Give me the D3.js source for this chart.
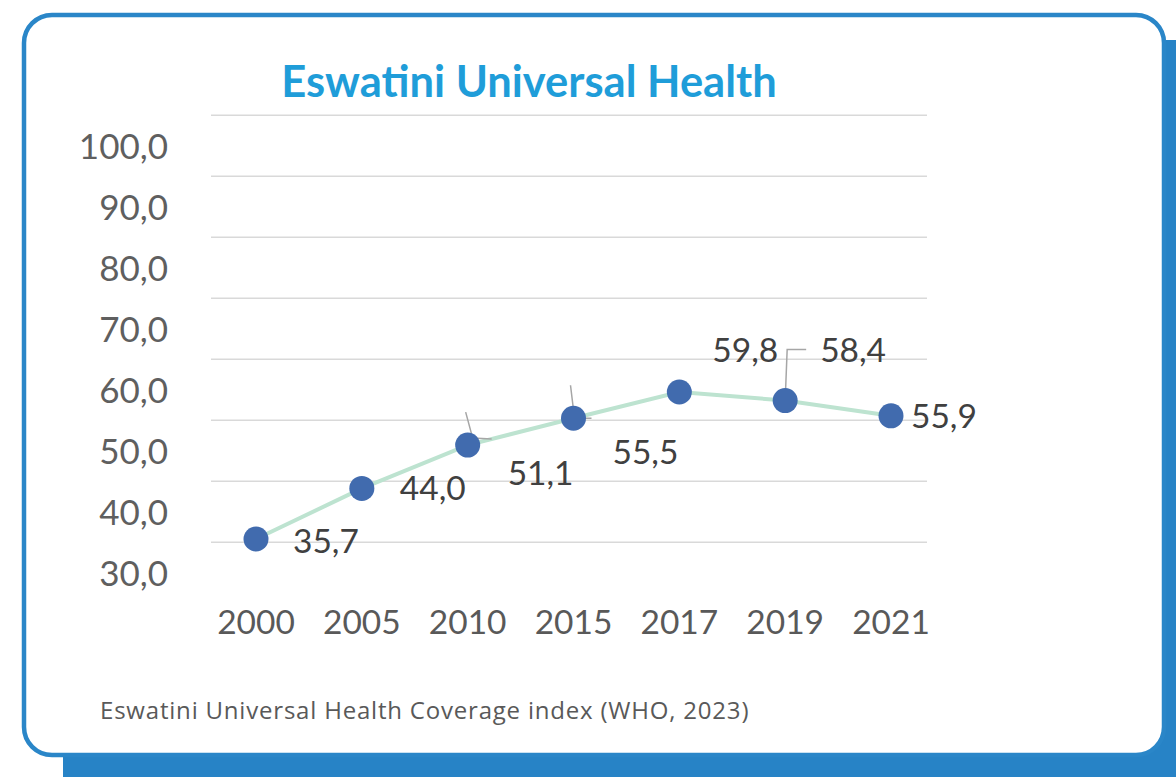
<!DOCTYPE html>
<html><head><meta charset="utf-8">
<script src="https://cdn.jsdelivr.net/npm/d3@7"></script>
<style>html,body{margin:0;padding:0;background:#fff;overflow:hidden}</style>
</head><body>
<svg id="c" width="1176" height="777"></svg>
<script>
const years = ["2000","2005","2010","2015","2017","2019","2021"];
const values = [35.7, 44.0, 51.1, 55.5, 59.8, 58.4, 55.9];
const valueLabels = ["35,7","44,0","51,1","55,5","59,8","58,4","55,9"];
const yTickValues = [30,40,50,60,70,80,90,100];
const yTickLabels = ["30,0","40,0","50,0","60,0","70,0","80,0","90,0","100,0"];
const gridValues = [35,45,55,65,75,85,95,105];

const svg = d3.select("#c");
// shadow + card
svg.append("rect").attr("x",63).attr("y",40).attr("width",1200).attr("height",800).attr("rx",22).attr("fill","#2783c6");
svg.append("rect").attr("x",24).attr("y",15).attr("width",1140).attr("height",740).attr("rx",28)
  .attr("fill","#fff").attr("stroke","#2a86c8").attr("stroke-width",4.5);

const x = d3.scalePoint().domain(years).range([256, 891]);
const y = d3.scaleLinear().domain([30, 105]).range([573.8, 116.3]);

// title
svg.append("text").attr("x",529).attr("y",97).attr("text-anchor","middle")
  .attr("font-family","Lato").attr("font-weight","bold").attr("font-size",43.5)
  .attr("fill","#1f9dd9").text("Eswatini Universal Health");

// grid
svg.append("g").selectAll("line").data(gridValues).join("line")
  .attr("x1",211).attr("x2",927).attr("y1",d=>y(d)-1).attr("y2",d=>y(d)-1)
  .attr("stroke","#d9d9d9").attr("stroke-width",1.5);

// y labels
svg.append("g").selectAll("text").data(yTickValues).join("text")
  .attr("x",168).attr("y",d=>y(d)).attr("dy","0.36em").attr("text-anchor","end")
  .attr("font-family","Lato").attr("font-size",35).attr("fill","#5f5f5f")
  .text((d,i)=>yTickLabels[i]);

// x labels
svg.append("g").selectAll("text").data(years).join("text")
  .attr("x",d=>x(d)).attr("y",634).attr("text-anchor","middle")
  .attr("font-family","Lato").attr("font-size",33.5).attr("fill","#595959").text(d=>d);

// line
const line = d3.line().x((d,i)=>x(years[i])).y(d=>y(d));
svg.append("path").datum(values).attr("d",line).attr("fill","none")
  .attr("stroke","#bde3d0").attr("stroke-width",4);

// leader lines (offsets relative to point)
const leaders = [null,null,
  [[-2,-33],[5,-7],[24,-6]],
  [[-3,-33],[1,0],[18,0]],
  null,
  [[0,0],[2,-51],[21,-51]],
  null];
leaders.forEach((l,i)=>{
  if(!l) return;
  const px = x(years[i]), py = y(values[i]);
  const pts = l.map(p=>[px+p[0], py+p[1]]);
  svg.append("path").attr("d", d3.line()(pts)).attr("fill","none")
    .attr("stroke","#a6a6a6").attr("stroke-width",1.5);
});

// points
svg.append("g").selectAll("circle").data(values).join("circle")
  .attr("cx",(d,i)=>x(years[i])).attr("cy",d=>y(d)).attr("r",12.5).attr("fill","#416bae");

// data labels offsets
const lblOff = [[37,14],[38,12],[40,40],[39,46],[33,-30],[35,-39],[20,12]];
svg.append("g").selectAll("text").data(values).join("text")
  .attr("x",(d,i)=>x(years[i])+lblOff[i][0]).attr("y",(d,i)=>y(d)+lblOff[i][1])
  .attr("font-family","Lato").attr("font-size",33.5).attr("fill","#404040")
  .text((d,i)=>valueLabels[i]);

// footer
svg.append("text").attr("x",100).attr("y",719).attr("font-family","Open Sans").attr("font-size",24)
  .attr("letter-spacing",0.8).attr("fill","#595959").text("Eswatini Universal Health Coverage index (WHO, 2023)");
</script>
</body></html>
